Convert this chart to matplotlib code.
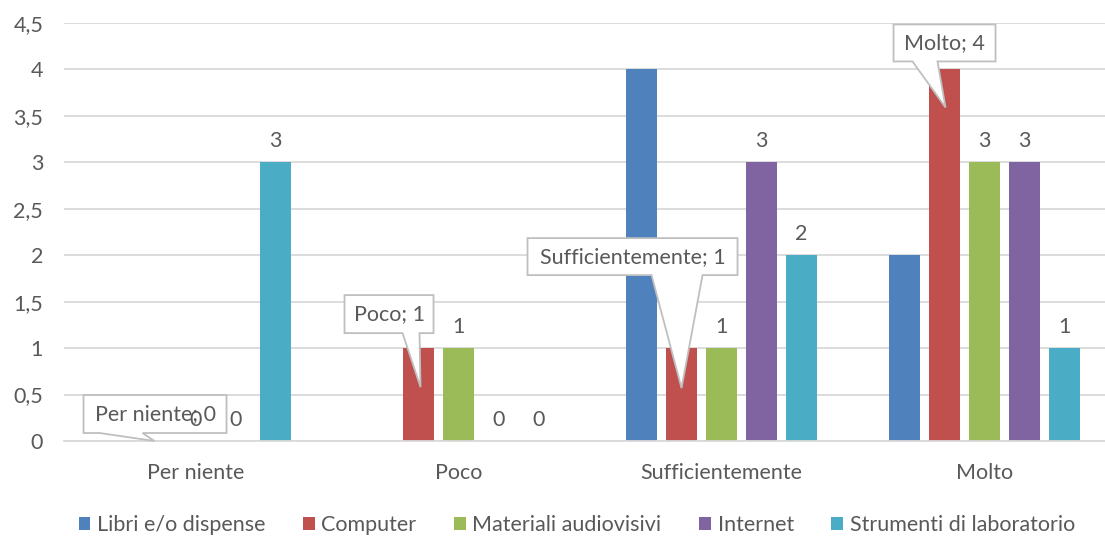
import numpy as np
import matplotlib.pyplot as plt
from matplotlib.patches import Polygon
from matplotlib.transforms import ScaledTranslation

plt.rcParams['font.family'] = ['Lato', 'DejaVu Sans']

categorie = ['Per niente', 'Poco', 'Sufficientemente', 'Molto']
serie = ['Libri e/o dispense', 'Computer', 'Materiali audiovisivi', 'Internet',
         'Strumenti di laboratorio']
libri = [0, 0, 4, 2]
computer = [0, 1, 1, 4]
audiovisivi = [0, 1, 1, 3]
internet = [0, 0, 3, 3]
strumenti = [3, 0, 2, 1]
valori = [libri, computer, audiovisivi, internet, strumenti]
colori = ['#4F81BD', '#C0504D', '#9BBB59', '#8064A2', '#4BACC6']
yticks = [0, 0.5, 1, 1.5, 2, 2.5, 3, 3.5, 4, 4.5]
ytick_labels = ['0', '0,5', '1', '1,5', '2', '2,5', '3', '3,5', '4', '4,5']

# callout boxes for the Computer series, in pixels relative to bar top
# (left, right, bottom, top, wedge_left, wedge_right, tip_dx, tip_dy)
callout_geom = [
    (-72, 71, 8, 46, -56, -13, -1, 0),
    (-74, 15, 15, 53, -16, 1, 2, -39),
    (-154, 56, 73, 110, -30, 21, 0, -40),
    (-51, 51, 8, 45, -32, -7, 1, -38),
]

grigio = '#595959'
fs = 15.5
fig = plt.figure(figsize=(11.05, 5.36), dpi=100)
ax = fig.add_axes([64 / 1105, 95 / 536, 1052 / 1105, 418 / 536])
ax.set_xlim(-0.5, 3.5)
ax.set_ylim(0, 4.5)

x = np.arange(len(categorie))
w = 0.118
step = 0.152
for i, (nome, vals, col) in enumerate(zip(serie, valori, colori)):
    pos = x + (i - 2) * step
    ax.bar(pos, vals, width=w, color=col, label=nome, zorder=2)
    if i == 0:
        continue
    for j, (px, v) in enumerate(zip(pos, vals)):
        if i == 1:
            l, r, b, t, wl, wr, tx, ty = callout_geom[j]
            verts = [(l, b), (wl, b), (tx, ty), (wr, b), (r, b), (r, t), (l, t)]
            verts = [(a / 100, c / 100) for a, c in verts]
            tr = fig.dpi_scale_trans + ScaledTranslation(px, v, ax.transData)
            poly = Polygon(verts, closed=True, facecolor='white', transform=tr,
                           edgecolor='#BFBFBF', lw=1.3, zorder=4, clip_on=False)
            ax.add_patch(poly)
            ax.annotate(f'{categorie[j]}; {v}', (px, v),
                        xytext=((l + r) / 2 * 0.72, (b + t) / 2 * 0.72),
                        textcoords='offset points', ha='center', va='center',
                        fontsize=fs, color=grigio, zorder=5)
        else:
            ax.annotate(f'{v}', (px, v), xytext=(0, 8), textcoords='offset points',
                        ha='center', va='bottom', fontsize=fs, color=grigio, zorder=5)

ax.set_yticks(yticks)
ax.set_yticklabels(ytick_labels)
ax.set_xticks(x)
ax.set_xticklabels(categorie)
ax.yaxis.grid(True, color='#D9D9D9', lw=1.3, zorder=0)
ax.set_axisbelow(True)
for s in ['top', 'right', 'left']:
    ax.spines[s].set_visible(False)
ax.spines['bottom'].set_color('#D9D9D9')
ax.spines['bottom'].set_linewidth(1.3)
ax.tick_params(axis='both', length=0, labelsize=fs, colors=grigio)
ax.tick_params(axis='y', pad=15)
ax.tick_params(axis='x', pad=16)

fig.legend(loc='lower center', bbox_to_anchor=(0.522, -0.034), ncol=5, frameon=False,
           fontsize=fs, labelcolor=grigio, handlelength=0.55, handleheight=0.55,
           handletextpad=0.3, columnspacing=1.75)

fig.savefig('out.png', dpi=100)
